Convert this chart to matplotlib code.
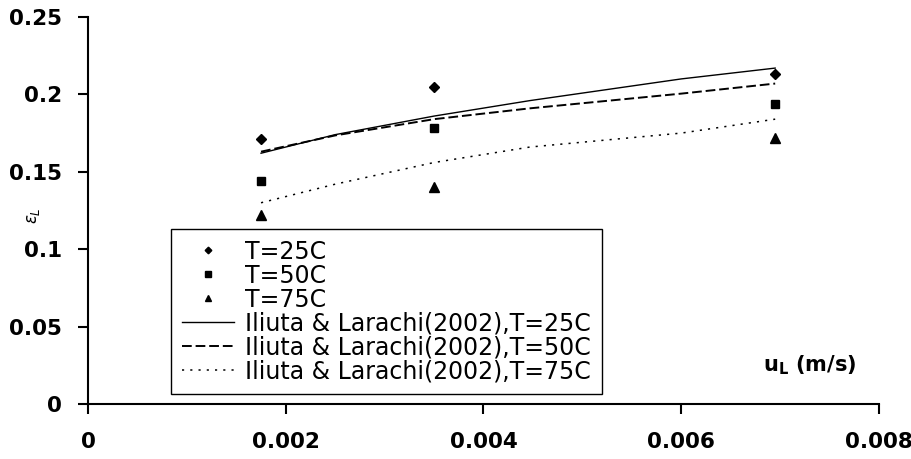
import matplotlib
matplotlib.use("Agg")
import matplotlib.pyplot as plt

plt.rcParams['font.family'] = ['DejaVu Sans']
plt.rcParams['mathtext.fontset'] = 'dejavusans'

# measured liquid holdup
u_exp = [0.00175, 0.0035, 0.00695]
eps_25 = [0.171, 0.205, 0.213]
eps_50 = [0.144, 0.178, 0.194]
eps_75 = [0.122, 0.140, 0.172]

# Iliuta & Larachi (2002) model
u_model = [0.00175, 0.0025, 0.0035, 0.00447, 0.006, 0.00695]
model_25 = [0.162, 0.174, 0.186, 0.196, 0.210, 0.217]
model_50 = [0.163, 0.1735, 0.184, 0.191, 0.2005, 0.207]
model_75 = [0.130, 0.142, 0.156, 0.166, 0.175, 0.184]

xticks = [0, 0.002, 0.004, 0.006, 0.008]
xtick_labels = ['0', '0.002', '0.004', '0.006', '0.008']
yticks = [0, 0.05, 0.1, 0.15, 0.2, 0.25]
ytick_labels = ['0', '0.05', '0.1', '0.15', '0.2', '0.25']

fig = plt.figure(figsize=(9.12, 4.59), dpi=100)
ax = fig.add_axes([88 / 912, 55 / 459, 791 / 912, 387 / 459])

ax.plot(u_exp, eps_25, 'D', color='black', ms=4.8, label='T=25C')
ax.plot(u_exp, eps_50, 's', color='black', ms=5.8, label='T=50C')
ax.plot(u_exp, eps_75, '^', color='black', ms=6.7, label='T=75C')
ax.plot(u_model, model_25, '-', color='black', lw=1.0,
        label='Iliuta & Larachi(2002),T=25C')
ax.plot(u_model, model_50, '--', color='black', lw=1.4, dashes=(5.0, 2.0),
        label='Iliuta & Larachi(2002),T=50C')
ax.plot(u_model, model_75, ':', color='black', lw=1.1, dashes=(1.4, 4.0),
        label='Iliuta & Larachi(2002),T=75C')

ax.set_xlim(0, 0.008)
ax.set_ylim(0, 0.25)
ax.set_xticks(xticks)
ax.set_xticklabels(xtick_labels)
ax.set_yticks(yticks)
ax.set_yticklabels(ytick_labels)

for side in ['top', 'right']:
    ax.spines[side].set_visible(False)
for side in ['left', 'bottom']:
    ax.spines[side].set_linewidth(1.5)
ax.tick_params(direction='out', length=7.5, width=1.5, labelsize=15.5)
ax.tick_params(axis='x', pad=13)
ax.tick_params(axis='y', pad=11)
for lab in ax.get_xticklabels() + ax.get_yticklabels():
    lab.set_fontweight('bold')

ax.text(0.0073, 0.025, r'u$_\mathbf{L}$ (m/s)', fontsize=15,
        fontweight='bold', ha='center', va='center')
fig.text(33 / 912, 1 - 216 / 459, r'$\epsilon_L$', fontsize=12,
         rotation=90, ha='center', va='center')

leg = ax.legend(loc='upper left', bbox_to_anchor=(171 / 912, 1 - 229 / 459),
                bbox_transform=fig.transFigure, fontsize=17, frameon=True,
                fancybox=False, borderaxespad=0, labelspacing=0,
                handlelength=2.2, handletextpad=0.5, borderpad=0.45,
                markerscale=0.7)
leg.get_frame().set_edgecolor('black')
leg.get_frame().set_linewidth(1.0)
leg.get_frame().set_alpha(1)

fig.savefig('out.png', dpi=100)
